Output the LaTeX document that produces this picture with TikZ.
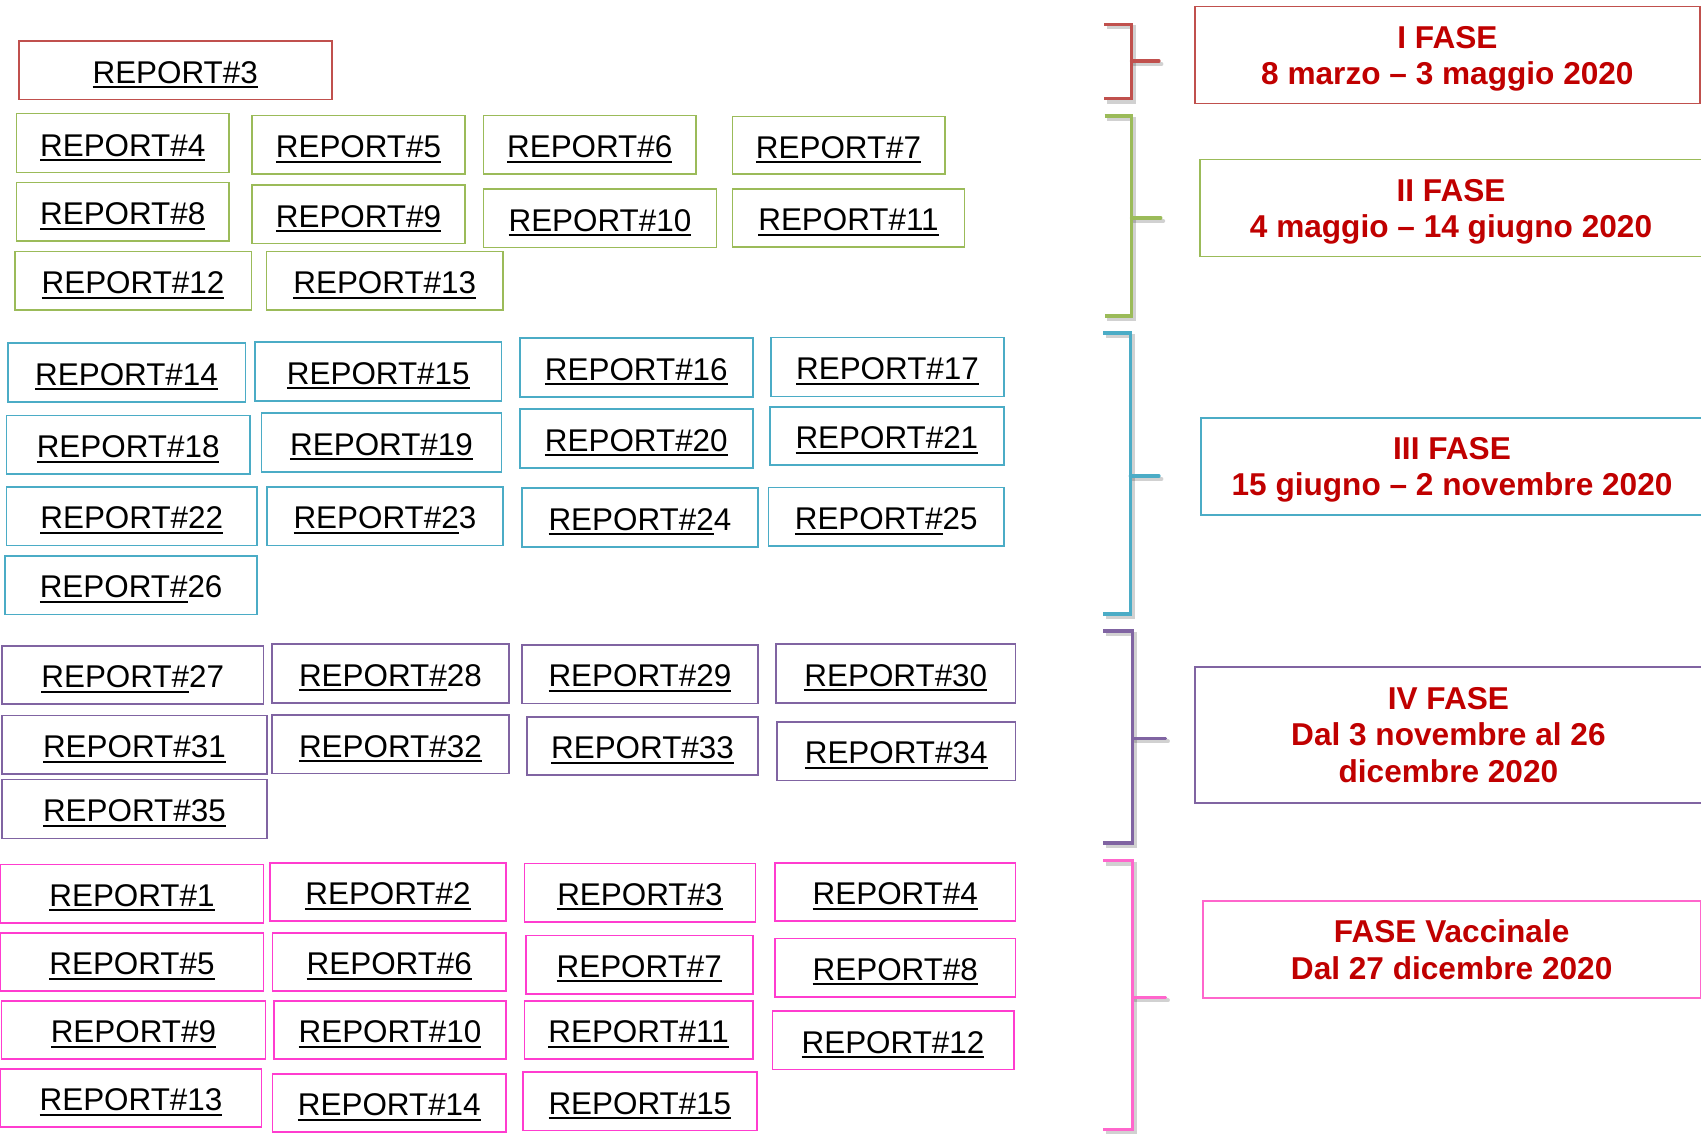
\documentclass[tikz,border=0pt]{standalone}
\usepackage{fontspec}
\setmainfont{Liberation Sans}
\definecolor{cred}{HTML}{C0504D}
\definecolor{cgreen}{HTML}{9BBB59}
\definecolor{cblue}{HTML}{4BACC6}
\definecolor{cpurple}{HTML}{8064A2}
\definecolor{cpink}{HTML}{FF3CCF}
\definecolor{cpinkb}{HTML}{FF66CC}
\definecolor{tred}{HTML}{C00000}
\newsavebox\myulbox
\newcommand\ulr[2]{\sbox\myulbox{#1}\rlap{\rule[-2.5pt]{\wd\myulbox}{1pt}}\usebox\myulbox#2}
\newcommand\rbox[7]{\node[repbox,draw=#7,minimum width={(#3-#1)*0.5pt},minimum height={(#4-#2)*0.5pt}] (#5) at ({(#1+#3)/2},{(#2+#4)/2}) {#6};}
\newcommand\pbox[7]{\node[phasebox,draw=#7,minimum width={(#3-#1)*0.5pt},minimum height={(#4-#2)*0.5pt}] (#5) at ({(#1+#3)/2},{(#2+#4)/2}) {#6};}
\newcommand\brk[7]{%
  \draw[brkshadow] ([shift={(2.5,3)}]#1,#3) -- ([shift={(2.5,3)}]#2,#3) -- ([shift={(2.5,3)}]#2,#4) -- ([shift={(2.5,3)}]#1,#4);
  \draw[brkshadow,line cap=round] ([shift={(2.5,3)}]#2,#5) -- ([shift={(2.5,3)}]#6,#5);
  \draw[brkline,draw=#7] (#1,#3) -- (#2,#3) -- (#2,#4) -- (#1,#4);
  \draw[brkline,draw=#7,line cap=round] (#2,#5) -- (#6,#5);}
\tikzset{
  repbox/.style={rectangle,inner sep=0pt,outer sep=0pt,line width=0.8pt,
    font=\fontsize{15.7pt}{18pt}\selectfont,text=black,text height=12.85pt,text depth=0pt},
  phasebox/.style={rectangle,inner sep=0pt,outer sep=0pt,line width=0.75pt,align=center,
    font=\fontsize{15.8pt}{18.2pt}\selectfont\bfseries,text=tred,text depth=0pt},
  brkline/.style={line width=1.65pt},
  brkshadow/.style={line width=1.9pt,draw=black,opacity=0.18},
}
\begin{document}
\begin{tikzpicture}[x=0.5pt,y=-0.5pt]
\clip (0,0) rectangle (1701,1139);
\fill[white] (0,0) rectangle (1701,1139);
% red
\rbox{18.75}{41.3}{331.7}{99.7}{r3}{\ulr{REPORT\#3}{}}{cred}
% green
\rbox{16.5}{113.7}{229}{172.7}{g4}{\ulr{REPORT\#4}{}}{cgreen}
\rbox{252}{115.7}{465}{174.3}{g5}{\ulr{REPORT\#5}{}}{cgreen}
\rbox{483.5}{115.7}{696}{174.3}{g6}{\ulr{REPORT\#6}{}}{cgreen}
\rbox{732.4}{116.7}{944.7}{174.3}{g7}{\ulr{REPORT\#7}{}}{cgreen}
\rbox{16.5}{182.7}{229}{241.3}{g8}{\ulr{REPORT\#8}{}}{cgreen}
\rbox{252}{185}{465}{243.7}{g9}{\ulr{REPORT\#9}{}}{cgreen}
\rbox{483.5}{189}{716.4}{247.7}{g10}{\ulr{REPORT\#10}{}}{cgreen}
\rbox{732.4}{189}{964.6}{247}{g11}{\ulr{REPORT\#11}{}}{cgreen}
\rbox{14.7}{251.7}{251.3}{310}{g12}{\ulr{REPORT\#12}{}}{cgreen}
\rbox{266.5}{251.7}{503}{310}{g13}{\ulr{REPORT\#13}{}}{cgreen}
% blue
\rbox{7.8}{342.7}{245.3}{401.7}{b14}{\ulr{REPORT\#14}{}}{cblue}
\rbox{255}{342}{501.6}{400.7}{b15}{\ulr{REPORT\#15}{}}{cblue}
\rbox{519.8}{338}{752.8}{397}{b16}{\ulr{REPORT\#16}{}}{cblue}
\rbox{771}{337.3}{1004}{396.3}{b17}{\ulr{REPORT\#17}{}}{cblue}
\rbox{6.5}{415.3}{249.8}{474}{b18}{\ulr{REPORT\#18}{}}{cblue}
\rbox{261.5}{413}{501.6}{472}{b19}{\ulr{REPORT\#19}{}}{cblue}
\rbox{519.8}{409}{752.8}{467.7}{b20}{\ulr{REPORT\#20}{}}{cblue}
\rbox{769.7}{406.7}{1004}{465}{b21}{\ulr{REPORT\#21}{}}{cblue}
\rbox{6.5}{486.7}{257}{545.3}{b22}{\ulr{REPORT\#22}{}}{cblue}
\rbox{266.8}{486.7}{503}{545.3}{b23}{\ulr{REPORT\#2}{3}}{cblue}
\rbox{521.8}{487.7}{758}{546.7}{b24}{\ulr{REPORT\#2}{4}}{cblue}
\rbox{768.4}{487.3}{1004}{546}{b25}{\ulr{REPORT\#}{25}}{cblue}
\rbox{5.2}{555.7}{257}{614.3}{b26}{\ulr{REPORT\#}{26}}{cblue}
% purple
\rbox{2}{645.7}{263.5}{704}{p27}{\ulr{REPORT\#}{27}}{cpurple}
\rbox{272}{644}{508.8}{702.7}{p28}{\ulr{REPORT\#}{28}}{cpurple}
\rbox{521.8}{644.7}{758}{703.3}{p29}{\ulr{REPORT\#29}{}}{cpurple}
\rbox{776}{644}{1015.6}{702.7}{p30}{\ulr{REPORT\#30}{}}{cpurple}
\rbox{2}{715.3}{266.8}{774}{p31}{\ulr{REPORT\#31}{}}{cpurple}
\rbox{272}{715}{508.8}{773.3}{p32}{\ulr{REPORT\#32}{}}{cpurple}
\rbox{527}{716.7}{758}{775}{p33}{\ulr{REPORT\#33}{}}{cpurple}
\rbox{776.8}{721.7}{1015.6}{780.3}{p34}{\ulr{REPORT\#34}{}}{cpurple}
\rbox{2}{779.3}{266.8}{838.3}{p35}{\ulr{REPORT\#35}{}}{cpurple}
% pink
\rbox{0.5}{864.3}{263.5}{922.7}{v1}{\ulr{REPORT\#1}{}}{cpink}
\rbox{270}{862.7}{506}{921}{v2}{\ulr{REPORT\#2}{}}{cpink}
\rbox{524.4}{863.3}{755.4}{921.7}{v3}{\ulr{REPORT\#3}{}}{cpink}
\rbox{775}{862.7}{1015.6}{921}{v4}{\ulr{REPORT\#4}{}}{cpink}
\rbox{0.5}{933}{263.5}{991}{v5}{\ulr{REPORT\#5}{}}{cpink}
\rbox{272.6}{933}{506}{991}{v6}{\ulr{REPORT\#6}{}}{cpink}
\rbox{525.7}{935.3}{752.8}{993.7}{v7}{\ulr{REPORT\#7}{}}{cpink}
\rbox{775}{938.3}{1015.6}{996.7}{v8}{\ulr{REPORT\#8}{}}{cpink}
\rbox{1.3}{1000.7}{265.5}{1059}{v9}{\ulr{REPORT\#9}{}}{cpink}
\rbox{274}{1000.7}{506}{1059}{v10}{\ulr{REPORT\#10}{}}{cpink}
\rbox{524.4}{1000.7}{752.8}{1059}{v11}{\ulr{REPORT\#11}{}}{cpink}
\rbox{772.3}{1011}{1013.7}{1069.3}{v12}{\ulr{REPORT\#12}{}}{cpink}
\rbox{0.5}{1068.7}{261.5}{1127}{v13}{\ulr{REPORT\#13}{}}{cpink}
\rbox{272.6}{1073.7}{506}{1132}{v14}{\ulr{REPORT\#14}{}}{cpink}
\rbox{523}{1072}{756.7}{1130.3}{v15}{\ulr{REPORT\#15}{}}{cpink}
% brackets
\brk{1104}{1131.5}{24.3}{98.7}{61}{1159}{cred}
\brk{1104.6}{1131.5}{116}{316}{218}{1160.8}{cgreen}
\brk{1103}{1130.3}{333}{614}{476}{1159}{cblue}
\brk{1103}{1132.7}{631}{843}{738.3}{1165.5}{cpurple}
\brk{1103}{1132.7}{860.7}{1129.3}{997.3}{1165.5}{cpinkb}
% phase boxes
\pbox{1194.8}{6.7}{1700}{103.7}{f1}{I FASE\\8 marzo – 3 maggio 2020}{cred}
\pbox{1200}{159.7}{1702}{256.7}{f2}{II FASE\\4 maggio – 14 giugno 2020}{cgreen}
\pbox{1201}{418}{1703}{515}{f3}{III FASE\\15 giugno – 2 novembre 2020}{cblue}
\pbox{1194.8}{667}{1702}{802.8}{f4}{IV FASE\\Dal 3 novembre al 26\\dicembre 2020}{cpurple}
\pbox{1202.8}{901}{1700.5}{998}{f5}{FASE Vaccinale\\Dal 27 dicembre 2020}{cpinkb}
\end{tikzpicture}
\end{document}
